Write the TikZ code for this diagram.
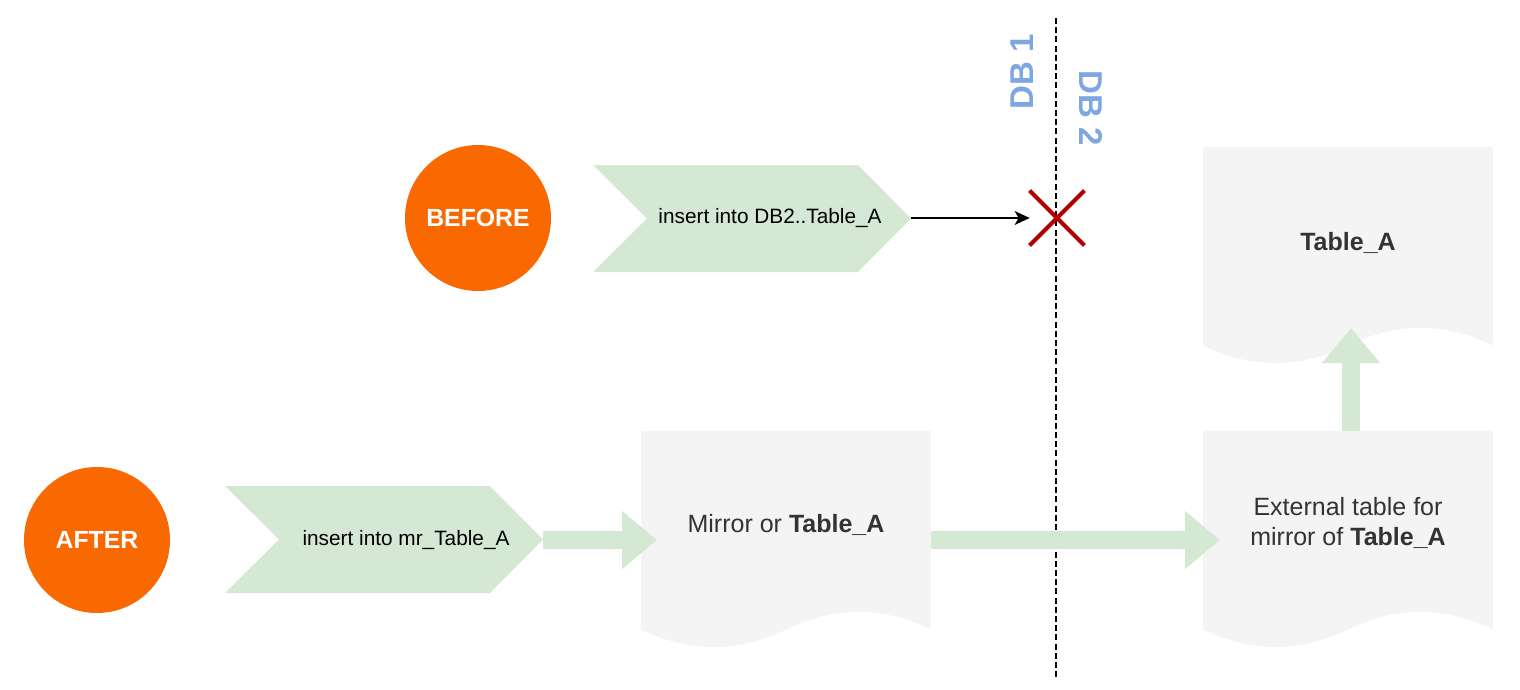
\documentclass[tikz,border=0pt]{standalone}
\usepackage{fontspec}
\setmainfont{Liberation Sans}
\usetikzlibrary{arrows.meta}
\definecolor{orangefill}{HTML}{FA6800}
\definecolor{chevgreen}{HTML}{D5E8D4}
\definecolor{docgray}{HTML}{F4F4F4}
\definecolor{doctext}{HTML}{333333}
\definecolor{dbblue}{HTML}{7EA6E0}
\definecolor{crossred}{HTML}{B20000}
% document shape with a wavy bottom, top left corner at #1
\newcommand{\docshape}[1]{\fill[docgray, shift={#1}] (0,0) -- (290,0) -- (290,198.5)
    .. controls (241.67,175.1) and (193.33,175.1) .. (145,198.5)
    .. controls (96.67,221.9) and (48.33,221.9) .. (0,198.5) -- cycle;}
% chevron, top left corner at #1
\newcommand{\chevron}[1]{\fill[chevgreen, shift={#1}] (0,0) -- (265,0) -- (318,53.5) -- (265,107) -- (0,107) -- (54,53.5) -- cycle;}
\tikzset{
    stamp/.style={circle, fill=orangefill, minimum size=73pt, inner sep=0pt, text=white, font=\fontsize{12.4}{15}\selectfont\bfseries},
    chevtext/.style={font=\fontsize{10.4}{12}\selectfont, text=black},
    doctxt/.style={font=\fontsize{12.5}{15}\selectfont, text=doctext, align=center},
    dblabel/.style={font=\fontsize{16.5}{18}\selectfont\bfseries, text=dbblue},
    thinarrow/.style={-{Stealth[length=7.5pt, width=7pt, inset=2pt]}, line width=0.75pt, black},
    fatarrow/.style={-{Triangle[length=17.5pt, width=28pt]}, line width=9pt, chevgreen},
    crossline/.style={crossred, line width=2pt}
}
\begin{document}
\begin{tikzpicture}[x=0.5pt, y=-0.5pt]
    \useasboundingbox (0,0) rectangle (1520,690);
    % Border between the databases
    \draw[line width=0.75pt, dash pattern=on 3pt off 1.6pt] (1056,18) -- (1056,678);
    \node[dblabel, rotate=90] (dbone) at (1022,72) {DB 1};
    \node[dblabel, rotate=-90] (dbtwo) at (1091,108) {DB 2};
    % Before
    \node[stamp] (before) at (478,218) {BEFORE};
    \chevron{(593,165)}
    \node[chevtext] (insold) at (770,218) {insert into DB2..Table\_A};
    \coordinate (tipold) at (911,218);
    \node[minimum size=27pt, inner sep=0pt] (cross) at (1057,218) {};
    \draw[crossline] (cross.north west) -- (cross.south east);
    \draw[crossline] (cross.north east) -- (cross.south west);
    \draw[thinarrow] (tipold) -- (cross.west);
    % After
    \node[stamp] (after) at (97,540) {AFTER};
    \chevron{(225,486)}
    \node[chevtext] (insnew) at (406,540) {insert into mr\_Table\_A};
    \coordinate (tipnew) at (543,540);
    % Documents
    \docshape{(641,431)}
    \node[doctxt] (mirror) at (786,525) {Mirror or \textbf{Table\_A}};
    \docshape{(1203,431)}
    \node[doctxt] (external) at (1348,523) {External table for\\mirror of \textbf{Table\_A}};
    \docshape{(1203,147)}
    \node[doctxt] (tablea) at (1348,243) {\textbf{Table\_A}};
    % Arrows between the documents
    \coordinate (mirrorin) at (657,540);
    \coordinate (mirrorout) at (931,540);
    \coordinate (extin) at (1220,540);
    \coordinate (exttop) at (1351,431);
    \coordinate (tablein) at (1351,328);
    \draw[fatarrow] (tipnew) -- (mirrorin);
    \draw[fatarrow] (mirrorout) -- (extin);
    \draw[fatarrow] (exttop) -- (tablein);
\end{tikzpicture}
\end{document}
